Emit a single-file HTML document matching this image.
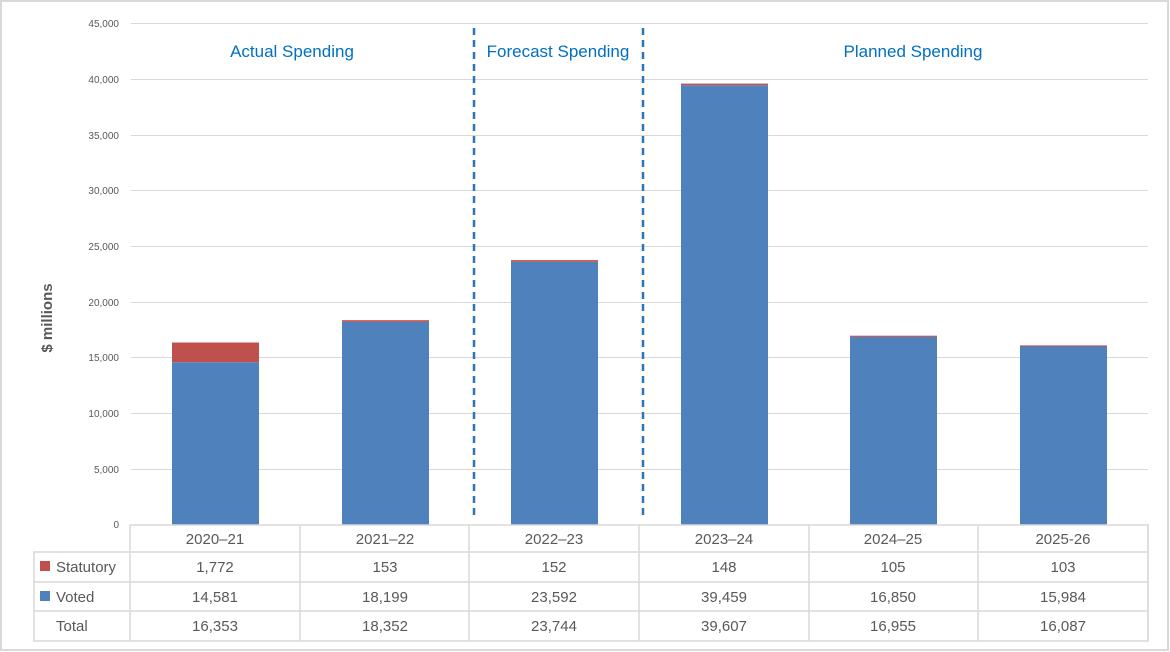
<!DOCTYPE html>
<html><head><meta charset="utf-8"><style>
body{margin:0;background:#fff}
svg{display:block;font-family:"Liberation Sans",Arial,sans-serif}
</style></head><body>
<svg width="1170" height="652" viewBox="0 0 1170 652">
<rect x="1" y="1" width="1167" height="649" fill="#fff" stroke="#d9d9d9" stroke-width="2"/>
<g stroke="#d9d9d9" stroke-width="1">
<line x1="131" y1="23.5" x2="1148" y2="23.5"/>
<line x1="131" y1="79.5" x2="1148" y2="79.5"/>
<line x1="131" y1="135.5" x2="1148" y2="135.5"/>
<line x1="131" y1="190.5" x2="1148" y2="190.5"/>
<line x1="131" y1="246.5" x2="1148" y2="246.5"/>
<line x1="131" y1="302.5" x2="1148" y2="302.5"/>
<line x1="131" y1="357.5" x2="1148" y2="357.5"/>
<line x1="131" y1="413.5" x2="1148" y2="413.5"/>
<line x1="131" y1="469.5" x2="1148" y2="469.5"/>
</g>
<g font-size="10" fill="#595959" text-anchor="end">
<text x="119" y="27">45,000</text><text x="119" y="83">40,000</text><text x="119" y="139">35,000</text>
<text x="119" y="194">30,000</text><text x="119" y="250">25,000</text><text x="119" y="306">20,000</text>
<text x="119" y="361">15,000</text><text x="119" y="417">10,000</text><text x="119" y="473">5,000</text>
<text x="119" y="528">0</text>
</g>
<text transform="translate(52,318) rotate(-90)" font-size="15" font-weight="bold" fill="#595959" text-anchor="middle">$ millions</text>
<!-- bars: scale 0.011133 px/unit, base 524.5 -->
<g>
<rect x="172" y="362.2" width="87" height="162.3" fill="#4f81bd"/><rect x="172" y="342.5" width="87" height="19.7" fill="#c0504d"/>
<rect x="342" y="321.9" width="87" height="202.6" fill="#4f81bd"/><rect x="342" y="320.2" width="87" height="1.7" fill="#c0504d"/>
<rect x="511" y="261.8" width="87" height="262.7" fill="#4f81bd"/><rect x="511" y="260.1" width="87" height="1.7" fill="#c0504d"/>
<rect x="681" y="85.2" width="87" height="439.3" fill="#4f81bd"/><rect x="681" y="83.6" width="87" height="1.6" fill="#c0504d"/>
<rect x="850" y="336.9" width="87" height="187.6" fill="#4f81bd"/><rect x="850" y="335.7" width="87" height="1.2" fill="#c0504d"/>
<rect x="1020" y="346.5" width="87" height="178" fill="#4f81bd"/><rect x="1020" y="345.4" width="87" height="1.1" fill="#c0504d"/>
</g>
<g stroke="#2e75b6" stroke-width="2.5" stroke-dasharray="7,5">
<line x1="474" y1="28" x2="474" y2="518"/><line x1="643" y1="28" x2="643" y2="518"/>
</g>
<g font-size="17" fill="#0070c0" text-anchor="middle">
<text x="292" y="57">Actual Spending</text>
<text x="558" y="57">Forecast Spending</text>
<text x="913" y="57">Planned Spending</text>
</g>
<!-- table -->
<g stroke="#d9d9d9" stroke-width="1.5" fill="none">
<path d="M130 525H1148V641H34V552H1148M34 582H1148M34 611H1148"/>
<path d="M130 525V641M300 525V641M469 525V641M639 525V641M809 525V641M978 525V641M1148 525V641"/>
</g>
<rect x="40" y="561" width="10" height="10" fill="#c0504d"/>
<rect x="40" y="591" width="10" height="10" fill="#4f81bd"/>
<g font-size="15" fill="#595959">
<text x="56" y="572">Statutory</text><text x="56" y="602">Voted</text><text x="56" y="631">Total</text>
</g>
<g font-size="15" fill="#595959" text-anchor="middle">
<text x="215" y="544">2020–21</text><text x="385" y="544">2021–22</text><text x="554" y="544">2022–23</text><text x="724" y="544">2023–24</text><text x="893" y="544">2024–25</text><text x="1063" y="544">2025-26</text>
<text x="215" y="572">1,772</text><text x="385" y="572">153</text><text x="554" y="572">152</text><text x="724" y="572">148</text><text x="893" y="572">105</text><text x="1063" y="572">103</text>
<text x="215" y="602">14,581</text><text x="385" y="602">18,199</text><text x="554" y="602">23,592</text><text x="724" y="602">39,459</text><text x="893" y="602">16,850</text><text x="1063" y="602">15,984</text>
<text x="215" y="631">16,353</text><text x="385" y="631">18,352</text><text x="554" y="631">23,744</text><text x="724" y="631">39,607</text><text x="893" y="631">16,955</text><text x="1063" y="631">16,087</text>
</g>
</svg>
</body></html>
